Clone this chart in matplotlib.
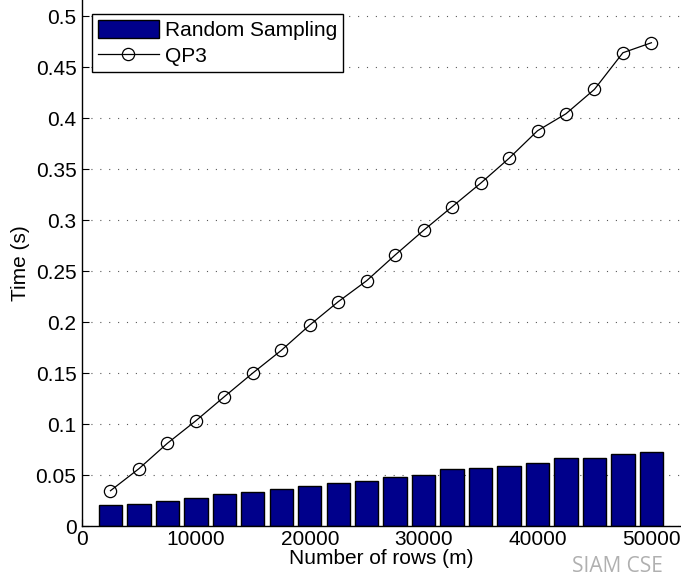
import matplotlib
matplotlib.use("Agg")
import matplotlib.pyplot as plt
import numpy as np

rows = [2500, 5000, 7500, 10000, 12500, 15000, 17500, 20000, 22500, 25000,
        27500, 30000, 32500, 35000, 37500, 40000, 42500, 45000, 47500, 50000]
random_sampling = [0.021, 0.022, 0.025, 0.0275, 0.031, 0.0336, 0.0365, 0.039, 0.042, 0.0445,
                   0.048, 0.050, 0.0558, 0.0565, 0.059, 0.0613, 0.0664, 0.0667, 0.0703, 0.0729]
qp3 = [0.0346, 0.0562, 0.0811, 0.1032, 0.1268, 0.150, 0.1722, 0.197, 0.2199, 0.2405,
       0.2657, 0.2899, 0.313, 0.336, 0.3605, 0.3875, 0.4042, 0.4281, 0.464, 0.4738]
xticks = [0, 10000, 20000, 30000, 40000, 50000]
yticks = [0, 0.05, 0.1, 0.15, 0.2, 0.25, 0.3, 0.35, 0.4, 0.45, 0.5]
ytick_labels = ["0", "0.05", "0.1", "0.15", "0.2", "0.25", "0.3", "0.35", "0.4", "0.45", "0.5"]

plt.rcParams['font.family'] = ['Liberation Sans', 'DejaVu Sans']
FS = 15

W, H = 681, 579
fig = plt.figure(figsize=(W / 100, H / 100), dpi=100)
ax = fig.add_axes([82 / W, 53 / H, (W - 82) / W, 526 / H])

bars = ax.bar(rows, random_sampling, width=2050, color='#00008B', edgecolor='black',
              linewidth=1.0, label='Random Sampling', zorder=2)
line, = ax.plot(rows, qp3, color='black', linewidth=0.9, marker='o', markersize=8.8,
                markerfacecolor='none', markeredgecolor='black', markeredgewidth=0.9,
                label='QP3', zorder=3)

ax.set_xlim(0, 52600)
ax.set_ylim(0, 0.5157)
ax.set_xticks(xticks)
ax.set_xticklabels([str(v) for v in xticks])
ax.set_yticks(yticks)
ax.set_yticklabels(ytick_labels)
ax.tick_params(direction='in', length=5, width=0.8, labelsize=FS, pad=4,
               colors='black')
ax.tick_params(axis='x', pad=3)
ax.yaxis.grid(True, linestyle=(0, (1, 7)), color='0.35', linewidth=0.8, zorder=0)
ax.set_axisbelow(True)

for s in ['top', 'right']:
    ax.spines[s].set_visible(False)
for s in ['left', 'bottom']:
    ax.spines[s].set_linewidth(1.0)
    ax.spines[s].set_color('black')

ax.set_xlabel('Number of rows (m)', fontsize=FS, labelpad=0)
ax.set_ylabel('Time (s)', fontsize=FS, labelpad=4)

leg = ax.legend(handles=[bars, line], labels=['Random Sampling', 'QP3'],
                loc='upper left', bbox_to_anchor=(10 / 599, 1 - 14 / 526),
                borderaxespad=0, fontsize=FS, fancybox=False, framealpha=1,
                edgecolor='black', handlelength=2.9, handleheight=0.95,
                handletextpad=0.3, labelspacing=0.25, borderpad=0.3)
leg.get_frame().set_linewidth(1.0)

fig.text(572 / W, 2 / H, 'SIAM CSE', color='#b0b0b0', fontsize=FS,
         ha='left', va='bottom', family=['Open Sans', 'DejaVu Sans'])

fig.savefig('out.png', dpi=100)
